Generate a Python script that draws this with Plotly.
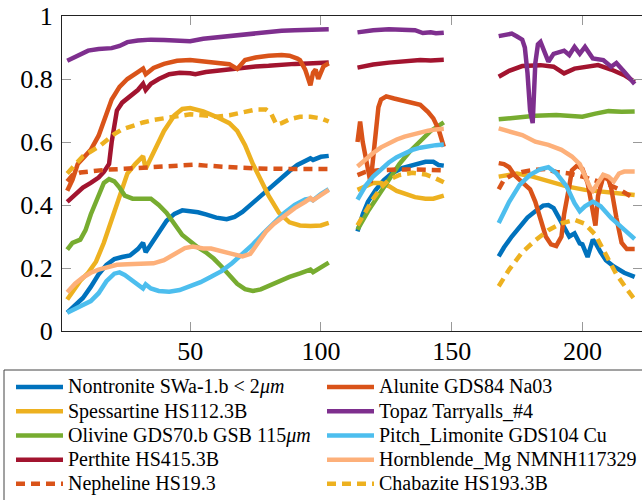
import plotly.graph_objects as go

# ---------------- data (band index vs reflectance), None = removed bands ----------------
NONTRONITE_X = [3,6,9,12,15,18,21,24,27,30,32,33,35,38,41,44,47,50,53,56,60,64,67,70,73,76,79,82,85,88,91,94,96,97,100,103,
                None,114,116,118,121,124,127,131,136,140,143,145,147,
                None,168,170,173,176,179,182,185,187,189,191,193,195,197,199,200,202,204,205,207,209,212,216,220]
NONTRONITE_Y = [0.058,0.08,0.105,0.14,0.18,0.21,0.228,0.235,0.24,0.26,0.28,0.25,0.275,0.315,0.35,0.372,0.383,0.38,0.377,0.37,0.36,0.355,0.362,0.378,0.4,0.42,0.445,0.467,0.49,0.508,0.527,0.542,0.548,0.543,0.553,0.556,
                None,0.316,0.37,0.41,0.448,0.478,0.5,0.517,0.527,0.537,0.537,0.527,0.525,
                None,0.237,0.265,0.3,0.33,0.36,0.38,0.398,0.4,0.39,0.36,0.33,0.3,0.31,0.278,0.275,0.235,0.29,0.28,0.25,0.225,0.205,0.185,0.172]

SPESSARTINE_X = [3,5,8,11,14,17,20,23,26,29,32,33,36,40,44,47,50,55,60,65,68,71,74,77,80,84,88,92,96,100,103,
                 None,114,117,120,123,126,129,132,136,140,143,147,
                 None,168,175,181,188,194,201,207,213,220]
SPESSARTINE_Y = [0.1,0.125,0.16,0.185,0.22,0.28,0.35,0.43,0.5,0.53,0.555,0.515,0.57,0.635,0.685,0.705,0.708,0.697,0.68,0.66,0.635,0.59,0.53,0.48,0.43,0.375,0.345,0.335,0.333,0.335,0.343,
                 None,0.448,0.46,0.47,0.47,0.46,0.445,0.435,0.425,0.42,0.42,0.43,
                 None,0.49,0.5,0.49,0.475,0.459,0.448,0.443,0.438,0.432]

OLIVINE_X = [3,5,8,10,12,15,17,19,21,23,25,28,31,33,35,38,41,44,47,50,53,56,59,62,65,68,71,74,77,80,84,88,92,96,97,100,103,
             None,114,118,122,126,130,134,138,142,147,
             None,168,175,182,190,195,200,205,210,215,220]
OLIVINE_Y = [0.258,0.28,0.29,0.32,0.37,0.43,0.47,0.482,0.475,0.455,0.43,0.42,0.422,0.42,0.42,0.40,0.375,0.34,0.305,0.285,0.265,0.25,0.23,0.205,0.175,0.15,0.133,0.127,0.132,0.143,0.157,0.172,0.183,0.195,0.187,0.2,0.217,
             None,0.322,0.38,0.43,0.48,0.53,0.57,0.605,0.635,0.662,
             None,0.672,0.678,0.683,0.686,0.684,0.68,0.69,0.698,0.696,0.697]

PERTHITE_X = [3,6,9,12,15,17,18,19,20,21,22,24,27,30,32,33,35,38,42,46,50,52,56,60,65,70,75,80,85,90,95,100,103,
              None,114,120,126,132,138,142,147,
              None,168,172,177,184,189,193,197,202,206,211,216,220]
PERTHITE_Y = [0.41,0.435,0.455,0.47,0.487,0.505,0.515,0.53,0.6,0.66,0.7,0.725,0.745,0.765,0.785,0.765,0.785,0.8,0.815,0.82,0.818,0.815,0.822,0.826,0.832,0.838,0.84,0.842,0.846,0.848,0.849,0.85,0.852,
              None,0.836,0.846,0.852,0.857,0.86,0.859,0.861,
              None,0.807,0.826,0.841,0.844,0.839,0.818,0.833,0.841,0.844,0.83,0.812,0.791]

NEPHELINE_X = [3,5,8,12,18,25,32,40,47,52,56,62,70,80,90,103,
               None,114,117,122,130,140,147,
               None,168,170,173,177,182,186,190,195,200,205,210,214,217,220]
NEPHELINE_Y = [0.475,0.495,0.503,0.507,0.512,0.515,0.518,0.522,0.527,0.528,0.525,0.521,0.518,0.515,0.514,0.514,
               None,0.495,0.505,0.51,0.513,0.512,0.51,
               None,0.45,0.48,0.495,0.505,0.512,0.514,0.505,0.5,0.49,0.478,0.465,0.45,0.435,0.42]

ALUNITE_X = [3,5,7,10,12,15,17,20,23,26,30,32,33,36,40,45,50,55,60,65,68,71,75,80,85,88,91,92,94,96,97,98,99,100,101,103,
             None,114,115,116,117,118,119,120,121,122,123,125,128,132,135,138,141,143,145,146,147,
             None,168,170,172,174,176,178,180,182,184,186,188,190,192,193,195,196,198,200,202,204,205,206,208,210,211,213,215,217,220]
ALUNITE_Y = [0.445,0.48,0.53,0.555,0.575,0.62,0.67,0.735,0.775,0.8,0.822,0.833,0.815,0.835,0.848,0.858,0.86,0.855,0.85,0.847,0.832,0.86,0.868,0.874,0.876,0.874,0.865,0.86,0.83,0.78,0.82,0.83,0.8,0.82,0.84,0.85,
             None,0.6,0.665,0.6,0.55,0.5,0.47,0.55,0.65,0.71,0.735,0.745,0.738,0.73,0.725,0.718,0.695,0.675,0.64,0.61,0.585,
             None,0.533,0.53,0.52,0.495,0.48,0.465,0.45,0.41,0.35,0.3,0.275,0.27,0.3,0.37,0.46,0.51,0.525,0.515,0.47,0.38,0.335,0.43,0.49,0.48,0.455,0.36,0.28,0.26,0.26]

TOPAZ_X = [3,7,11,15,20,23,26,30,35,40,45,50,55,60,65,70,75,80,85,90,95,100,103,
           None,114,120,126,132,136,139,142,144,147,
           None,168,171,173,175,177,178,179,180,181,182,183,184,186,187,189,193,195,197,199,201,204,208,211,213,216,220]
TOPAZ_Y = [0.858,0.876,0.89,0.895,0.898,0.905,0.917,0.922,0.925,0.924,0.923,0.92,0.928,0.932,0.936,0.942,0.947,0.95,0.953,0.955,0.956,0.957,0.958,
           None,0.948,0.955,0.958,0.958,0.955,0.946,0.948,0.945,0.947,
           None,0.936,0.939,0.944,0.935,0.925,0.9,0.82,0.7,0.66,0.85,0.91,0.918,0.875,0.855,0.88,0.89,0.876,0.902,0.88,0.902,0.865,0.86,0.839,0.851,0.823,0.784]

PITCH_X = [3,6,9,12,15,18,21,23,25,28,30,32,33,35,38,42,46,50,54,58,62,66,70,74,78,82,86,90,94,96,97,100,103,
           None,114,117,120,123,126,129,132,135,138,141,144,147,
           None,168,172,176,180,184,187,190,194,197,199,201,204,207,211,216,220]
PITCH_Y = [0.058,0.07,0.08,0.095,0.12,0.158,0.182,0.186,0.178,0.158,0.145,0.135,0.148,0.135,0.127,0.125,0.13,0.142,0.155,0.172,0.19,0.215,0.245,0.275,0.31,0.345,0.375,0.4,0.418,0.42,0.415,0.435,0.45,
           None,0.417,0.46,0.49,0.515,0.535,0.552,0.565,0.575,0.582,0.587,0.59,0.592,
           None,0.343,0.41,0.464,0.496,0.514,0.52,0.501,0.459,0.406,0.38,0.396,0.411,0.396,0.359,0.322,0.292]

HORNBLENDE_X = [3,6,9,12,15,18,22,26,30,33,36,40,44,48,51,55,58,62,66,70,73,76,79,82,86,90,94,96,97,100,103,
                None,114,117,120,123,126,129,132,135,138,141,144,147,
                None,168,172,177,182,187,192,196,199,201,203,204,206,208,210,212,214,216,220]
HORNBLENDE_Y = [0.123,0.15,0.17,0.185,0.195,0.203,0.21,0.212,0.213,0.212,0.215,0.225,0.245,0.263,0.268,0.262,0.262,0.255,0.245,0.237,0.245,0.28,0.315,0.34,0.365,0.39,0.41,0.422,0.415,0.43,0.448,
                None,0.522,0.545,0.565,0.583,0.597,0.608,0.617,0.624,0.63,0.636,0.64,0.642,
                None,0.643,0.633,0.622,0.601,0.591,0.575,0.554,0.53,0.49,0.455,0.445,0.47,0.496,0.49,0.475,0.5,0.506,0.506]

CHABAZITE_X = [3,6,9,12,15,18,21,24,28,32,36,40,45,50,55,60,65,70,75,79,81,83,85,88,92,96,100,103,
               None,114,117,120,123,126,130,135,140,143,147,
               None,168,172,177,182,187,192,197,201,205,209,213,217,220]
CHABAZITE_Y = [0.5,0.53,0.555,0.57,0.585,0.605,0.625,0.64,0.652,0.662,0.67,0.675,0.682,0.688,0.685,0.68,0.685,0.695,0.703,0.703,0.69,0.655,0.66,0.672,0.68,0.68,0.675,0.665,
               None,0.335,0.38,0.42,0.455,0.48,0.495,0.502,0.497,0.488,0.472,
               None,0.142,0.195,0.25,0.288,0.32,0.342,0.353,0.34,0.305,0.245,0.18,0.133,0.1]

X_TICKS = [50, 100, 150, 200]
Y_TICKS = [0, 0.2, 0.4, 0.6, 0.8, 1]
Y_TICK_TEXT = ["0", "0.2", "0.4", "0.6", "0.8", "1"]

# (name, x, y, colour, dash, legend column) in drawing order
SERIES = [
    ("Nontronite SWa-1.b &lt; 2<i>μm</i>", NONTRONITE_X, NONTRONITE_Y, "#0072BD", "solid", "legend"),
    ("Spessartine HS112.3B", SPESSARTINE_X, SPESSARTINE_Y, "#EDB120", "solid", "legend"),
    ("Olivine GDS70.b GSB 115<i>μm</i>", OLIVINE_X, OLIVINE_Y, "#77AC30", "solid", "legend"),
    ("Perthite HS415.3B", PERTHITE_X, PERTHITE_Y, "#A2142F", "solid", "legend"),
    ("Nepheline HS19.3", NEPHELINE_X, NEPHELINE_Y, "#D95319", "9px,6px", "legend"),
    ("Alunite GDS84 Na03", ALUNITE_X, ALUNITE_Y, "#D95319", "solid", "legend2"),
    ("Topaz Tarryalls_#4", TOPAZ_X, TOPAZ_Y, "#7E2F8E", "solid", "legend2"),
    ("Pitch_Limonite GDS104 Cu", PITCH_X, PITCH_Y, "#4DBEEE", "solid", "legend2"),
    ("Hornblende_Mg NMNH117329", HORNBLENDE_X, HORNBLENDE_Y, "#FDB07A", "solid", "legend2"),
    ("Chabazite HS193.3B", CHABAZITE_X, CHABAZITE_Y, "#EDB120", "9px,6px", "legend2"),
]

FONT = '"Liberation Serif", "Times New Roman", Times, serif'
W, H = 642, 500
L, R, T, B = 62, 0, 16, 169

fig = go.Figure()
for name, xs, ys, col, dash, leg in SERIES:
    fig.add_trace(go.Scatter(
        x=xs, y=ys, mode="lines", connectgaps=False,
        name='<span style="font-size:20px">' + name + "</span>",
        line=dict(color=col, width=4.5, dash=dash),
        legend=leg, hoverinfo="skip",
    ))
# invisible helper to carry the right-hand tick marks
fig.add_trace(go.Scatter(x=[None], y=[None], yaxis="y2", showlegend=False, hoverinfo="skip"))

pw = W - L - R
ph = H - T - B

def px_to_paper_x(px):
    return (px - L) / pw

def py_to_paper_y(py):
    return (H - B - py) / ph

legend_common = dict(
    orientation="v", xanchor="left", y=py_to_paper_y(370), yanchor="top",
    font=dict(family=FONT, size=16.3, color="black"), itemwidth=47,
    bgcolor="rgba(0,0,0,0)", borderwidth=0, traceorder="normal",
)

fig.update_layout(
    width=W, height=H,
    margin=dict(l=L, r=R, t=T, b=B, pad=0, autoexpand=False),
    paper_bgcolor="white", plot_bgcolor="white",
    font=dict(family=FONT, color="black"),
    xaxis=dict(
        range=[1, 222.8], tickvals=X_TICKS, ticks="inside", ticklen=9, tickcolor="#999999",
        tickwidth=1, showline=True, linecolor="#222222", linewidth=1.2, mirror="ticks",
        showgrid=False, zeroline=False, ticklabelstandoff=-3,
        tickfont=dict(family=FONT, size=26, color="black"),
    ),
    yaxis=dict(
        range=[0, 1], tickvals=Y_TICKS, ticktext=Y_TICK_TEXT, ticks="inside", ticklen=9,
        tickcolor="#999999", tickwidth=1, showline=True, linecolor="#222222", linewidth=1.2,
        mirror=False, showgrid=False, zeroline=False, ticklabelstandoff=3,
        tickfont=dict(family=FONT, size=26, color="black"),
    ),
    yaxis2=dict(
        range=[0, 1], overlaying="y", side="right", tickvals=Y_TICKS, ticks="inside",
        ticklen=9, tickcolor="#999999", showticklabels=False, showline=False,
        showgrid=False, zeroline=False,
    ),
    showlegend=True,
    legend=dict(x=px_to_paper_x(11), **legend_common),
    legend2=dict(x=px_to_paper_x(322), **legend_common),
    shapes=[dict(
        type="rect", xref="paper", yref="paper",
        x0=px_to_paper_x(4), x1=px_to_paper_x(700), y0=py_to_paper_y(370), y1=py_to_paper_y(560),
        line=dict(color="#444444", width=1), fillcolor="rgba(0,0,0,0)", layer="below",
    )],
)

# the page's default body margin would shift the 642x500 figure; remove it
fig.write_html("out.html", config={"displayModeBar": False},
               post_script="document.body.style.margin='0px';")
